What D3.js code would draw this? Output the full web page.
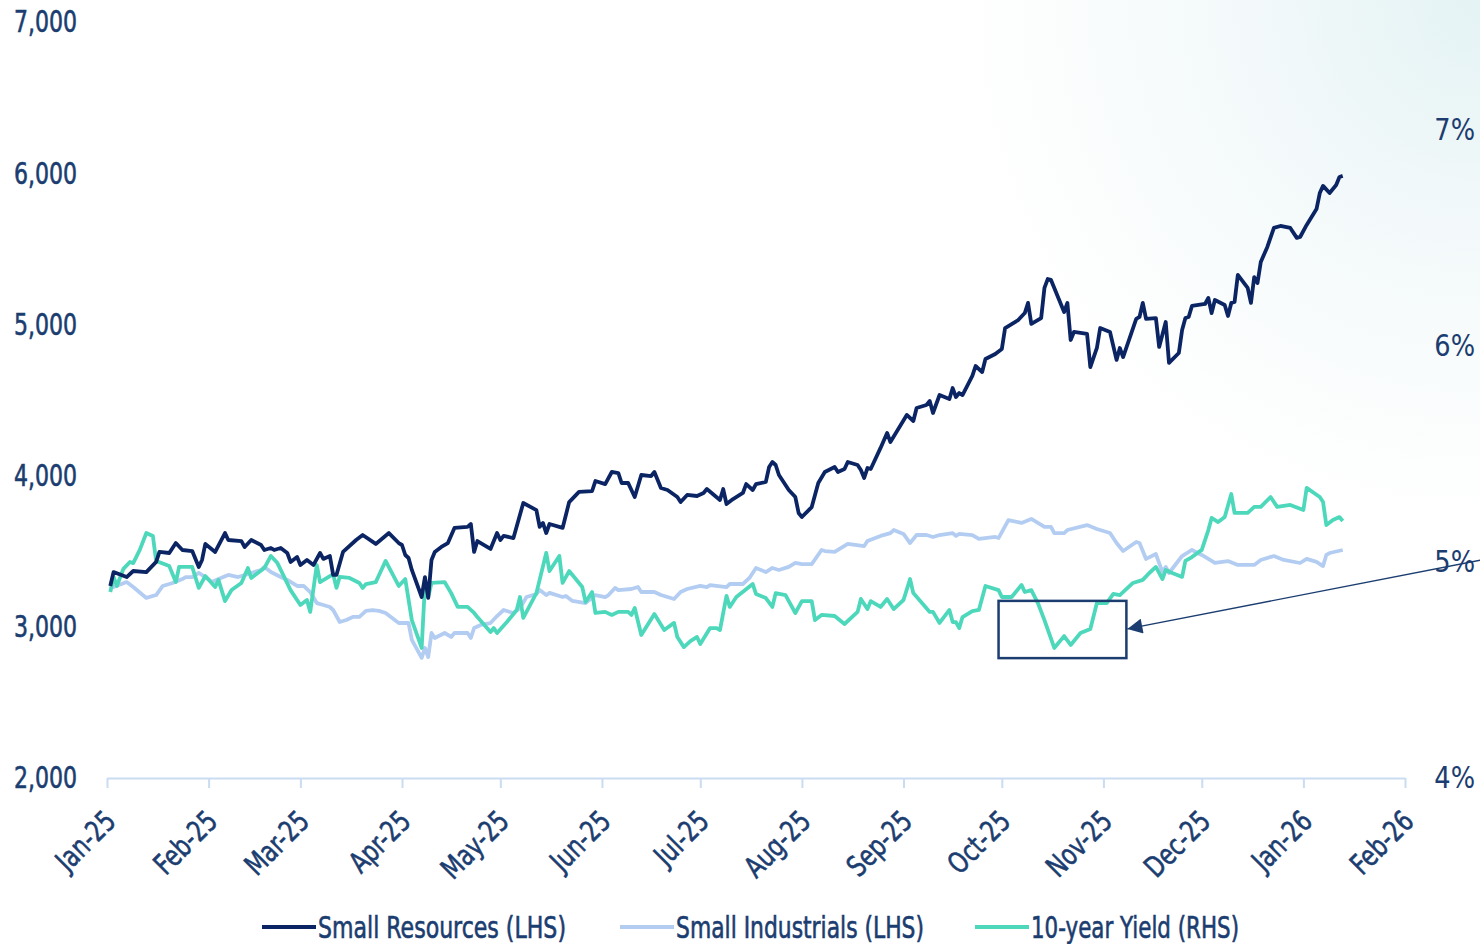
<!DOCTYPE html>
<html>
<head>
<meta charset="utf-8">
<script src="https://cdn.jsdelivr.net/npm/d3@7/dist/d3.min.js"></script>
<style>
    html, body { margin: 0; padding: 0; background: #fff; }
    svg { display: block; }
    text { font-family: "Liberation Sans Narrow", "DejaVu Sans Condensed", "Roboto", sans-serif; }
</style>
</head>
<body>
<svg id="chart"></svg>
<script>
    // 数据
    var resources = [
        ["2025-01-02",3270],["2025-01-03",3362],["2025-01-07",3329],["2025-01-09",3369],["2025-01-13",3362],
        ["2025-01-16",3429],["2025-01-17",3495],["2025-01-20",3488],["2025-01-22",3554],["2025-01-24",3508],
        ["2025-01-27",3501],["2025-01-29",3396],["2025-01-30",3442],["2025-01-31",3548],["2025-02-03",3495],
        ["2025-02-06",3620],["2025-02-07",3574],["2025-02-11",3567],["2025-02-12",3528],["2025-02-14",3574],
        ["2025-02-17",3541],["2025-02-18",3508],["2025-02-20",3521],["2025-02-21",3508],["2025-02-23",3521],
        ["2025-02-25",3488],["2025-02-26",3429],["2025-02-28",3462],["2025-03-01",3409],["2025-03-03",3442],
        ["2025-03-05",3409],["2025-03-07",3488],["2025-03-08",3449],["2025-03-10",3468],["2025-03-11",3343],
        ["2025-03-12",3343],["2025-03-14",3495],["2025-03-18",3574],["2025-03-20",3607],["2025-03-24",3548],
        ["2025-03-28",3620],["2025-03-31",3554],["2025-04-01",3541],["2025-04-02",3475],["2025-04-03",3455],
        ["2025-04-04",3376],["2025-04-07",3197],["2025-04-08",3329],["2025-04-09",3191],["2025-04-10",3442],
        ["2025-04-11",3495],["2025-04-13",3528],["2025-04-15",3554],["2025-04-17",3654],["2025-04-21",3661],
        ["2025-04-22",3680],["2025-04-23",3495],["2025-04-24",3567],["2025-04-28",3515],["2025-04-30",3620],
        ["2025-05-01",3574],["2025-05-02",3601],["2025-05-05",3587],["2025-05-08",3819],["2025-05-12",3772],
        ["2025-05-13",3661],["2025-05-14",3687],["2025-05-15",3620],["2025-05-16",3680],["2025-05-20",3654],
        ["2025-05-22",3825],["2025-05-25",3892],["2025-05-29",3898],["2025-05-30",3964],["2025-06-02",3944],
        ["2025-06-04",4024],["2025-06-06",4017],["2025-06-07",3951],["2025-06-09",3951],["2025-06-11",3858],
        ["2025-06-13",4004],["2025-06-16",3997],["2025-06-17",4024],["2025-06-19",3918],["2025-06-21",3905],
        ["2025-06-24",3858],["2025-06-25",3825],["2025-06-27",3872],["2025-06-30",3865],["2025-07-02",3885],
        ["2025-07-03",3911],["2025-07-07",3839],["2025-07-08",3911],["2025-07-09",3812],["2025-07-11",3845],
        ["2025-07-14",3885],["2025-07-15",3944],["2025-07-17",3905],["2025-07-18",3944],["2025-07-21",3958],
        ["2025-07-22",4057],["2025-07-23",4090],["2025-07-24",4070],["2025-07-25",4004],["2025-07-28",3905],
        ["2025-07-30",3858],["2025-07-31",3753],["2025-08-01",3726],["2025-08-04",3792],["2025-08-06",3951],
        ["2025-08-08",4024],["2025-08-11",4057],["2025-08-12",4024],["2025-08-14",4044],["2025-08-15",4090],
        ["2025-08-18",4070],["2025-08-19",4037],["2025-08-20",3984],["2025-08-21",4050],["2025-08-22",4044],
        ["2025-08-25",4183],["2025-08-27",4282],["2025-08-28",4222],["2025-09-02",4401],["2025-09-04",4361],
        ["2025-09-05",4447],["2025-09-08",4467],["2025-09-09",4493],["2025-09-10",4414],["2025-09-12",4533],
        ["2025-09-15",4507],["2025-09-16",4579],["2025-09-17",4520],["2025-09-18",4546],["2025-09-19",4533],
        ["2025-09-22",4659],["2025-09-23",4725],["2025-09-25",4685],["2025-09-26",4771],["2025-09-29",4804],
        ["2025-10-01",4837],["2025-10-02",4976],["2025-10-06",5029],["2025-10-08",5075],["2025-10-09",5142],
        ["2025-10-10",5003],["2025-10-13",5042],["2025-10-14",5241],["2025-10-15",5300],["2025-10-16",5294],
        ["2025-10-20",5082],["2025-10-21",5142],["2025-10-22",4897],["2025-10-23",4950],["2025-10-27",4937],
        ["2025-10-28",4718],["2025-10-30",4844],["2025-10-31",4976],["2025-11-03",4950],["2025-11-05",4765],
        ["2025-11-06",4844],["2025-11-07",4784],["2025-11-11",5036],["2025-11-12",5049],["2025-11-13",5142],
        ["2025-11-14",5036],["2025-11-17",5042],["2025-11-18",4851],["2025-11-20",5016],["2025-11-21",4745],
        ["2025-11-24",4811],["2025-11-25",4963],["2025-11-26",5042],["2025-11-27",5049],["2025-11-28",5122],
        ["2025-12-02",5135],["2025-12-03",5175],["2025-12-04",5075],["2025-12-05",5161],["2025-12-08",5128],
        ["2025-12-09",5056],["2025-12-10",5142],["2025-12-11",5148],["2025-12-12",5327],["2025-12-15",5241],
        ["2025-12-16",5142],["2025-12-17",5313],["2025-12-18",5274],["2025-12-19",5413],["2025-12-21",5512],
        ["2025-12-23",5638],["2025-12-25",5651],["2025-12-28",5638],["2025-12-30",5572],["2025-12-31",5578],
        ["2026-01-02",5658],["2026-01-05",5763],["2026-01-06",5869],["2026-01-07",5916],["2026-01-09",5869],
        ["2026-01-11",5922],["2026-01-12",5975],["2026-01-13",5982]
    ];

    var industrials = [
        ["2025-01-02",3263],["2025-01-03",3263],["2025-01-07",3296],["2025-01-09",3263],["2025-01-13",3191],
        ["2025-01-16",3210],["2025-01-18",3270],["2025-01-21",3290],["2025-01-24",3316],["2025-01-25",3329],
        ["2025-01-27",3329],["2025-01-29",3356],["2025-01-31",3329],["2025-02-02",3296],["2025-02-04",3316],
        ["2025-02-07",3343],["2025-02-10",3329],["2025-02-12",3343],["2025-02-17",3376],["2025-02-18",3396],
        ["2025-02-20",3362],["2025-02-23",3329],["2025-02-25",3310],["2025-02-28",3270],["2025-03-02",3270],
        ["2025-03-04",3230],["2025-03-06",3157],["2025-03-08",3144],["2025-03-10",3131],["2025-03-11",3111],
        ["2025-03-13",3032],["2025-03-15",3045],["2025-03-17",3065],["2025-03-19",3065],["2025-03-21",3105],
        ["2025-03-23",3111],["2025-03-25",3105],["2025-03-27",3091],["2025-03-31",3025],["2025-04-03",3025],
        ["2025-04-04",2913],["2025-04-07",2794],["2025-04-08",2860],["2025-04-09",2800],["2025-04-10",2959],
        ["2025-04-11",2926],["2025-04-14",2959],["2025-04-16",2933],["2025-04-17",2959],["2025-04-21",2959],
        ["2025-04-22",2926],["2025-04-23",2992],["2025-04-25",3012],["2025-04-28",3025],["2025-04-30",3071],
        ["2025-05-02",3111],["2025-05-05",3091],["2025-05-07",3124],["2025-05-09",3197],["2025-05-12",3217],
        ["2025-05-13",3243],["2025-05-15",3210],["2025-05-16",3224],["2025-05-20",3197],["2025-05-21",3204],
        ["2025-05-23",3171],["2025-05-27",3157],["2025-05-30",3210],["2025-06-02",3197],["2025-06-03",3210],
        ["2025-06-05",3257],["2025-06-06",3243],["2025-06-10",3250],["2025-06-12",3263],["2025-06-13",3230],
        ["2025-06-17",3230],["2025-06-19",3210],["2025-06-23",3184],["2025-06-25",3230],["2025-06-27",3250],
        ["2025-07-01",3270],["2025-07-03",3263],["2025-07-04",3276],["2025-07-09",3263],["2025-07-10",3283],
        ["2025-07-14",3283],["2025-07-16",3323],["2025-07-18",3389],["2025-07-21",3362],["2025-07-23",3389],
        ["2025-07-25",3376],["2025-07-28",3396],["2025-07-30",3422],["2025-08-01",3415],["2025-08-04",3415],
        ["2025-08-07",3508],["2025-08-08",3501],["2025-08-11",3495],["2025-08-15",3548],["2025-08-20",3534],
        ["2025-08-21",3567],["2025-08-25",3601],["2025-08-28",3620],["2025-08-29",3640],["2025-09-01",3614],
        ["2025-09-03",3554],["2025-09-05",3607],["2025-09-08",3607],["2025-09-10",3594],["2025-09-12",3607],
        ["2025-09-16",3620],["2025-09-17",3601],["2025-09-18",3614],["2025-09-22",3607],["2025-09-24",3581],
        ["2025-09-29",3594],["2025-09-30",3587],["2025-10-03",3706],["2025-10-07",3687],["2025-10-10",3713],
        ["2025-10-14",3661],["2025-10-16",3661],["2025-10-17",3620],["2025-10-20",3620],["2025-10-21",3640],
        ["2025-10-27",3673],["2025-10-30",3647],["2025-11-03",3620],["2025-11-05",3554],["2025-11-07",3501],
        ["2025-11-11",3561],["2025-11-12",3554],["2025-11-14",3449],["2025-11-17",3481],["2025-11-19",3362],
        ["2025-11-20",3396],["2025-11-21",3356],["2025-11-25",3468],["2025-11-28",3508],["2025-12-01",3475],
        ["2025-12-05",3422],["2025-12-09",3435],["2025-12-12",3409],["2025-12-17",3409],["2025-12-19",3442],
        ["2025-12-23",3468],["2025-12-26",3442],["2025-12-31",3422],["2026-01-02",3449],["2026-01-05",3429],
        ["2026-01-07",3402],["2026-01-08",3475],["2026-01-09",3488],["2026-01-13",3508]
    ];

    var yield10 = [
        ["2025-01-02",4.861],["2025-01-03",4.931],["2025-01-04",4.889],["2025-01-06",4.968],["2025-01-08",5.000],
        ["2025-01-09",4.995],["2025-01-11",5.056],["2025-01-13",5.134],["2025-01-15",5.120],["2025-01-16",5.005],
        ["2025-01-20",4.981],["2025-01-22",4.907],["2025-01-23",4.977],["2025-01-27",4.977],["2025-01-29",4.880],
        ["2025-01-31",4.935],["2025-02-03",4.884],["2025-02-04",4.917],["2025-02-06",4.819],["2025-02-08",4.870],
        ["2025-02-11",4.903],["2025-02-13",4.972],["2025-02-14",4.926],["2025-02-18",4.972],["2025-02-20",5.028],
        ["2025-02-22",4.995],["2025-02-26",4.870],["2025-03-01",4.801],["2025-03-03",4.824],["2025-03-04",4.769],
        ["2025-03-06",4.986],["2025-03-07",4.907],["2025-03-11",4.944],["2025-03-12",4.880],["2025-03-13",4.931],
        ["2025-03-16",4.926],["2025-03-19",4.903],["2025-03-20",4.880],["2025-03-21",4.898],["2025-03-24",4.907],
        ["2025-03-25",4.940],["2025-03-27",5.005],["2025-03-31",4.889],["2025-04-02",4.921],["2025-04-04",4.731],
        ["2025-04-07",4.602],["2025-04-08",4.894],["2025-04-09",4.838],["2025-04-10",4.903],["2025-04-14",4.907],
        ["2025-04-16",4.856],["2025-04-18",4.792],["2025-04-21",4.792],["2025-04-23",4.764],["2025-04-24",4.745],
        ["2025-04-28",4.676],["2025-04-29",4.694],["2025-04-30",4.671],["2025-05-03",4.722],["2025-05-06",4.778],
        ["2025-05-07",4.838],["2025-05-08",4.741],["2025-05-12",4.856],["2025-05-15",5.042],["2025-05-16",4.958],
        ["2025-05-19",5.028],["2025-05-20",4.903],["2025-05-22",4.958],["2025-05-26",4.884],["2025-05-27",4.815],
        ["2025-05-29",4.861],["2025-05-30",4.764],["2025-06-02",4.769],["2025-06-04",4.755],["2025-06-06",4.769],
        ["2025-06-09",4.769],["2025-06-10",4.755],["2025-06-11",4.787],["2025-06-13",4.662],["2025-06-17",4.759],
        ["2025-06-20",4.685],["2025-06-23",4.718],["2025-06-24",4.653],["2025-06-26",4.606],["2025-06-28",4.634],
        ["2025-06-30",4.653],["2025-07-01",4.620],["2025-07-04",4.694],["2025-07-06",4.694],["2025-07-07",4.685],
        ["2025-07-09",4.843],["2025-07-10",4.792],["2025-07-12",4.838],["2025-07-17",4.898],["2025-07-18",4.852],
        ["2025-07-21",4.833],["2025-07-23",4.792],["2025-07-24",4.856],["2025-07-27",4.847],["2025-07-30",4.764],
        ["2025-08-01",4.819],["2025-08-04",4.819],["2025-08-05",4.731],["2025-08-07",4.755],["2025-08-11",4.750],
        ["2025-08-14",4.713],["2025-08-18",4.769],["2025-08-19",4.829],["2025-08-21",4.782],["2025-08-22",4.819],
        ["2025-08-25",4.792],["2025-08-27",4.829],["2025-08-29",4.782],["2025-09-01",4.824],["2025-09-03",4.921],
        ["2025-09-04",4.856],["2025-09-09",4.769],["2025-09-10",4.769],["2025-09-12",4.718],["2025-09-15",4.778],
        ["2025-09-16",4.722],["2025-09-17",4.722],["2025-09-18",4.694],["2025-09-19",4.745],["2025-09-22",4.773],
        ["2025-09-24",4.778],["2025-09-26",4.889],["2025-09-30",4.870],["2025-10-01",4.838],["2025-10-04",4.838],
        ["2025-10-07",4.894],["2025-10-08",4.861],["2025-10-10",4.870],["2025-10-12",4.810],["2025-10-14",4.731],
        ["2025-10-17",4.602],["2025-10-20",4.657],["2025-10-22",4.616],["2025-10-25",4.671],["2025-10-28",4.690],
        ["2025-10-30",4.810],["2025-11-02",4.810],["2025-11-04",4.852],["2025-11-06",4.847],["2025-11-10",4.903],
        ["2025-11-13",4.917],["2025-11-15",4.949],["2025-11-17",4.977],["2025-11-19",4.921],["2025-11-20",4.963],
        ["2025-11-22",4.949],["2025-11-25",4.931],["2025-11-26",5.005],["2025-11-28",5.023],["2025-12-01",5.056],
        ["2025-12-03",5.148],["2025-12-04",5.204],["2025-12-06",5.185],["2025-12-08",5.208],["2025-12-10",5.315],
        ["2025-12-11",5.227],["2025-12-15",5.227],["2025-12-17",5.255],["2025-12-19",5.255],["2025-12-22",5.301],
        ["2025-12-24",5.255],["2025-12-28",5.264],["2026-01-01",5.241],["2026-01-02",5.343],["2026-01-06",5.301],
        ["2026-01-07",5.278],["2026-01-08",5.171],["2026-01-10",5.194],["2026-01-12",5.208],["2026-01-13",5.190]
    ];

    var leftTicks = [2000, 3000, 4000, 5000, 6000, 7000];
    var rightTicks = [4, 5, 6, 7];
    var seriesNames = ["Small Resources (LHS)", "Small Industrials (LHS)", "10-year Yield (RHS)"];
    var seriesColors = ["#0b2463", "#b3cdf2", "#4dd8bb"];
    // 标注框 (10年期收益率回落区间)
    var boxDates = ["2025-09-30", "2025-11-08"];
    var boxYields = [4.82, 4.555];

    var width = 1480, height = 944;
    var navy = "#1b3d70";
    var parse = d3.timeParse("%Y-%m-%d");

    var svg = d3.select("#chart").attr("width", width).attr("height", height);

    // 右上角淡色背景
    var defs = svg.append("defs");
    var grad = defs.append("radialGradient").attr("id", "bg")
        .attr("gradientUnits", "userSpaceOnUse")
        .attr("cx", width).attr("cy", 0).attr("r", 520);
    grad.append("stop").attr("offset", "0%").attr("stop-color", "#e4f3f4");
    grad.append("stop").attr("offset", "45%").attr("stop-color", "#f3f9fa");
    grad.append("stop").attr("offset", "100%").attr("stop-color", "#ffffff");
    svg.append("rect").attr("width", width).attr("height", height).attr("fill", "url(#bg)");

    defs.append("marker").attr("id", "arrow")
        .attr("viewBox", "0 0 10 10").attr("refX", 10).attr("refY", 5)
        .attr("markerWidth", 16).attr("markerHeight", 15)
        .attr("markerUnits", "userSpaceOnUse")
        .attr("orient", "auto")
        .append("path").attr("d", "M0,0 L10,5 L0,10 z").attr("fill", navy);

    // 文字压窄, 接近原图的窄体字
    function narrow(sel, k) {
        sel.each(function() {
            var w = this.getComputedTextLength();
            d3.select(this).attr("textLength", w * k).attr("lengthAdjust", "spacingAndGlyphs");
        });
    }

    // 比例尺
    var x = d3.scaleTime()
        .domain([new Date(2025, 0, 1), new Date(2026, 1, 1)])
        .range([107, 1405]);
    var yL = d3.scaleLinear().domain([2000, 7000]).range([778, 22]);
    var yR = d3.scaleLinear().domain([4, 7.5]).range([778, 22]);

    // X 轴
    var xAxis = svg.append("g").attr("transform", "translate(0," + yL(2000) + ")")
        .call(d3.axisBottom(x)
            .ticks(d3.timeMonth.every(1))
            .tickFormat(d3.timeFormat("%b-%y"))
            .tickSize(10).tickSizeOuter(0));
    xAxis.select(".domain").attr("stroke", "#c9dcf2").attr("stroke-width", 2);
    xAxis.selectAll(".tick line").attr("stroke", "#c9dcf2").attr("stroke-width", 2);
    xAxis.selectAll(".tick text")
        .attr("x", 0).attr("y", 0).attr("dy", 0)
        .attr("text-anchor", "end")
        .attr("transform", "translate(10,45) rotate(-45)")
        .attr("fill", navy).attr("stroke", navy).attr("stroke-width", 0.6)
        .style("font-size", "29px")
        .call(narrow, 0.85);

    // 左轴
    var leftAxis = svg.append("g").attr("transform", "translate(107,0)")
        .call(d3.axisLeft(yL).tickValues(leftTicks).tickFormat(d3.format(",")).tickSize(0).tickPadding(30));
    leftAxis.select(".domain").remove();
    leftAxis.selectAll("text")
        .attr("fill", navy).attr("stroke", navy).attr("stroke-width", 0.6)
        .style("font-size", "31px")
        .call(narrow, 0.79);

    // 右轴
    var rightAxis = svg.append("g").attr("transform", "translate(1475,0)")
        .call(d3.axisRight(yR).tickValues(rightTicks).tickFormat(function(d) { return d + "%"; }).tickSize(0).tickPadding(0));
    rightAxis.select(".domain").remove();
    rightAxis.selectAll("text")
        .attr("fill", navy).attr("text-anchor", "end").attr("x", 0)
        .style("font-size", "30px")
        .call(narrow, 0.95);

    // 折线
    var lineL = d3.line().x(function(d) { return x(parse(d[0])); }).y(function(d) { return yL(d[1]); });
    var lineR = d3.line().x(function(d) { return x(parse(d[0])); }).y(function(d) { return yR(d[1]); });

    var plot = svg.append("g");
    plot.append("path").datum(industrials).attr("d", lineL)
        .attr("fill", "none").attr("stroke", seriesColors[1]).attr("stroke-width", 3.8).attr("stroke-linejoin", "round");
    plot.append("path").datum(yield10).attr("d", lineR)
        .attr("fill", "none").attr("stroke", seriesColors[2]).attr("stroke-width", 3.8).attr("stroke-linejoin", "round");
    plot.append("path").datum(resources).attr("d", lineL)
        .attr("fill", "none").attr("stroke", seriesColors[0]).attr("stroke-width", 3.8).attr("stroke-linejoin", "round");

    // 标注框和箭头
    var bx0 = x(parse(boxDates[0])), bx1 = x(parse(boxDates[1]));
    var by0 = yR(boxYields[0]), by1 = yR(boxYields[1]);
    svg.append("rect")
        .attr("x", bx0).attr("y", by0)
        .attr("width", bx1 - bx0).attr("height", by1 - by0)
        .attr("fill", "none").attr("stroke", navy).attr("stroke-width", 2.5);
    svg.append("line")
        .attr("x1", width + 2).attr("y1", yR(5.01))
        .attr("x2", bx1 + 1).attr("y2", yR(4.69))
        .attr("stroke", navy).attr("stroke-width", 1.3)
        .attr("marker-end", "url(#arrow)");

    // 图例
    var legendX = [262, 620, 975];
    var legendW = [248, 248, 208];
    var legend = svg.append("g").selectAll("g")
        .data(seriesNames).enter().append("g")
        .attr("transform", function(d, i) { return "translate(" + legendX[i] + ",927)"; });
    legend.append("line")
        .attr("x1", 0).attr("x2", 54).attr("y1", 0).attr("y2", 0)
        .attr("stroke", function(d, i) { return seriesColors[i]; })
        .attr("stroke-width", 4);
    legend.append("text")
        .attr("x", 56).attr("y", 11)
        .attr("fill", navy).attr("stroke", navy).attr("stroke-width", 0.6)
        .style("font-size", "30px")
        .attr("textLength", function(d, i) { return legendW[i]; })
        .attr("lengthAdjust", "spacingAndGlyphs")
        .text(function(d) { return d; });
</script>
</body>
</html>
